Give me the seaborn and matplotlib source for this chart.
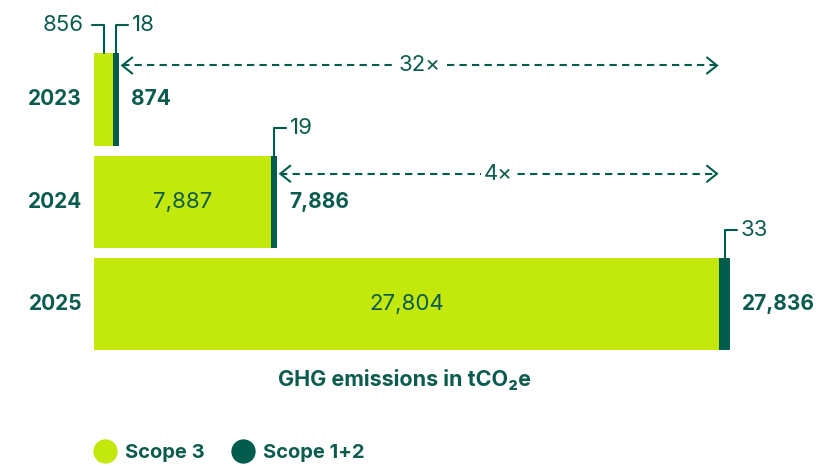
import matplotlib
matplotlib.use("Agg")
import matplotlib.pyplot as plt
from matplotlib.transforms import IdentityTransform
from matplotlib.lines import Line2D
import seaborn as sns
import pandas as pd

# ---- data ----
years = ["2023", "2024", "2025"]
scope3 = [856, 7887, 27804]
scope12 = [18, 19, 33]
total_labels = ["874", "7,886", "27,836"]
scope3_labels = ["856", "7,887", "27,804"]
scope12_labels = ["18", "19", "33"]
multiples = ["32×", "4×"]
legend_labels = ["Scope 3", "Scope 1+2"]
title = "GHG emissions in tCO₂e"

# ---- style ----
LIGHT = "#C2E80C"
DARK = "#005C4D"
TEXT = "#0B5C4F"
W, H, DPI = 816, 466, 100
FS = 16        # regular numbers
FSB = 15       # bold labels
DARK_MIN_PX = [6, 6, 11]      # minimum drawn width of the tiny Scope 1+2 segments
ARROW_DY = [12, 18]          # arrow distance below bar top (px)

sns.set_theme(style="white")
plt.rcParams["font.family"] = ["Inter", "DejaVu Sans"]

fig = plt.figure(figsize=(W / DPI, H / DPI), dpi=DPI)
ax = fig.add_axes([0, 0, 1, 1])

px_per_unit = 625 / max(scope3)
x0 = 94
stack_end = [s + p / px_per_unit for s, p in zip(scope3, DARK_MIN_PX)]
df = pd.DataFrame({"year": years, "scope3": scope3, "stack_end": stack_end})

sns.barplot(data=df, y="year", x="stack_end", color=DARK, saturation=1,
            width=0.9, orient="h", ax=ax)
sns.barplot(data=df, y="year", x="scope3", color=LIGHT, saturation=1,
            width=0.9, orient="h", ax=ax)
for p in ax.patches:
    p.set_linewidth(0)

pitch = 102.25
c0 = 99.5
ax.set_xlim(-x0 / px_per_unit, (W - x0) / px_per_unit)
ax.set_ylim((H - c0) / pitch, -c0 / pitch)
ax.axis("off")

def disp(x, y):
    return ax.transData.transform((x, y))

LW = 1.5
for i, y in enumerate(years):
    ax.annotate(y, xy=(0, i), xytext=(-12, 0), textcoords="offset pixels",
                ha="right", va="center", fontsize=FSB, fontweight="bold", color=TEXT)
    ax.annotate(total_labels[i], xy=(stack_end[i], i), xytext=(12, 0),
                textcoords="offset pixels", ha="left", va="center",
                fontsize=FSB, fontweight="bold", color=TEXT)
    top = i - 0.45
    bx0, by0 = disp(0, top)
    bx1, _ = disp(scope3[i], top)
    if bx1 - bx0 > 80:
        ax.text(scope3[i] / 2, i, scope3_labels[i], ha="center", va="center",
                fontsize=FS, color=TEXT)
    else:
        cx = (bx0 + bx1) / 2
        ax.add_line(Line2D([cx, cx, cx - 12], [by0, by0 + 28, by0 + 28],
                           transform=IdentityTransform(), color=DARK, lw=LW))
        ax.text(cx - 20, by0 + 28, scope3_labels[i], transform=IdentityTransform(),
                ha="right", va="center", fontsize=FS, color=TEXT)
    dx0, _ = disp(scope3[i], top)
    dx1, _ = disp(stack_end[i], top)
    cx = (dx0 + dx1) / 2
    ax.add_line(Line2D([cx, cx, cx + 12], [by0, by0 + 28, by0 + 28],
                       transform=IdentityTransform(), color=DARK, lw=LW))
    ax.text(cx + 16, by0 + 28, scope12_labels[i], transform=IdentityTransform(),
            ha="left", va="center", fontsize=FS, color=TEXT)

end_x, _ = disp(scope3[-1], 0)
end_x -= 2
for i, m in enumerate(multiples):
    sx, ty = disp(stack_end[i], i - 0.45)
    sx += 3
    yy = ty - ARROW_DY[i]
    ax.add_line(Line2D([sx, end_x], [yy, yy], transform=IdentityTransform(),
                       color=DARK, lw=LW, ls=(0, (3.5, 2.5))))
    for tip, d in ((sx, 1), (end_x, -1)):
        ax.add_line(Line2D([tip + d * 10, tip, tip + d * 10], [yy + 8, yy, yy - 8],
                           transform=IdentityTransform(), color=DARK, lw=LW,
                           solid_capstyle="round", solid_joinstyle="miter"))
    ax.text((sx + end_x) / 2, yy, m, transform=IdentityTransform(), ha="center",
            va="center", fontsize=FS, color=TEXT,
            bbox=dict(boxstyle="square,pad=0.15", fc="white", ec="none"))

fig.text(405 / W, 1 - 379 / H, title, ha="center", va="center",
         fontsize=15.5, fontweight="bold", color=TEXT)

handles = [Line2D([], [], ls="none", marker="o", markersize=16.5, color=c)
           for c in (LIGHT, DARK)]
leg = fig.legend(handles, legend_labels, loc="center left",
                 bbox_to_anchor=(95.4 / W, 1 - 453 / H), ncol=2, frameon=False,
                 handlelength=1.0, handletextpad=0.47, columnspacing=1.41,
                 borderaxespad=0, borderpad=0,
                 prop={"weight": "bold", "size": 14.5})
for t in leg.get_texts():
    t.set_color(TEXT)

fig.savefig("out.png", dpi=DPI)
